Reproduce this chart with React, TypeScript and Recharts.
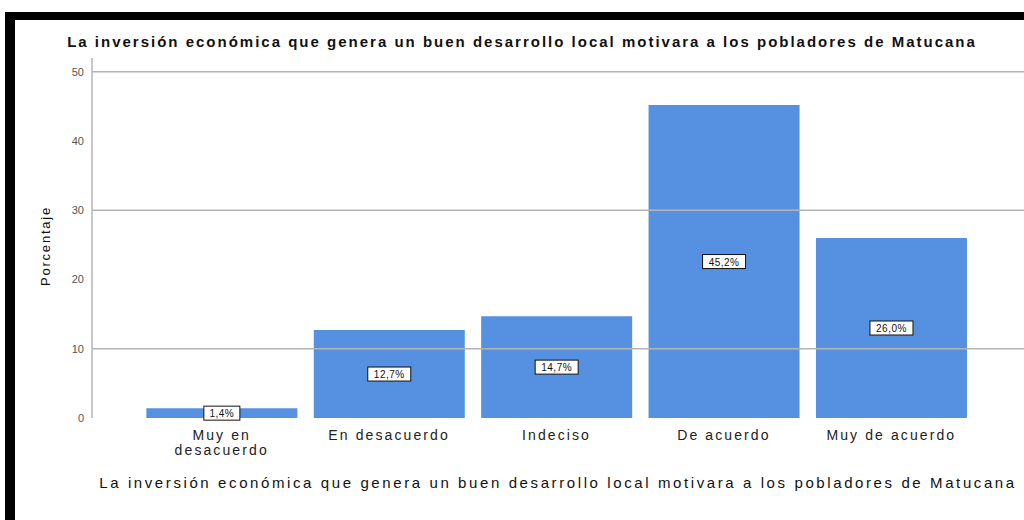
import React from "react";
import { Bar, BarChart, LabelList, ReferenceLine, XAxis, YAxis, Label } from "recharts";

const categories = ["Muy en desacuerdo", "En desacuerdo", "Indeciso", "De acuerdo", "Muy de acuerdo"];
const percentages = [1.4, 12.7, 14.7, 45.2, 26.0];
const yTicks = [0, 10, 20, 30, 40, 50];
const gridValues = [10, 30, 50];

const TITLE = "La inversión económica que genera un buen desarrollo local motivara a los pobladores de Matucana";
const FONT = "'Liberation Sans', Arial, sans-serif";

const data = categories.map((name, i) => ({ name, value: percentages[i] }));

function wrapWords(text: string, max: number) {
  const lines: string[] = [];
  let cur = "";
  for (const w of text.split(" ")) {
    const next = cur ? cur + " " + w : w;
    if (next.length > max && cur) {
      lines.push(cur);
      cur = w;
    } else cur = next;
  }
  if (cur) lines.push(cur);
  return lines;
}

function CategoryTick(props: any) {
  const { x, y, payload } = props;
  const lines = wrapWords(payload.value, 14);
  return (
    <text x={x} y={y + 14} textAnchor="middle" fill="#222" fontSize={14} letterSpacing={2.1} fontFamily={FONT}>
      {lines.map((l, i) => (
        <tspan key={i} x={x} dy={i === 0 ? 0 : 15}>
          {l}
        </tspan>
      ))}
    </text>
  );
}

function ValueBox(props: any) {
  const { x, y, width, height, value } = props;
  const txt = value.toFixed(1).replace(".", ",") + "%";
  const w = txt.length * 7 + 8;
  const cx = x + width / 2;
  const cy = y + height / 2;
  return (
    <g>
      <rect x={cx - w / 2} y={cy - 7} width={w} height={14} fill="#fff" stroke="#111" strokeWidth={1} />
      <text x={cx} y={cy + 4} textAnchor="middle" fontSize={10} fill="#111" fontFamily={FONT} letterSpacing={0.5}>
        {txt}
      </text>
    </g>
  );
}

export default function App() {
  return (
    <div style={{ position: "fixed", left: 0, top: 0, width: 1024, height: 520, background: "#fff", overflow: "hidden", fontFamily: FONT }}>
      <div style={{ position: "absolute", left: 5, top: 12, width: 1019, height: 8, background: "#000" }} />
      <div style={{ position: "absolute", left: 5, top: 12, width: 10, height: 508, background: "#000" }} />
      <div
        style={{
          position: "absolute",
          left: 0,
          width: 1044,
          top: 33,
          textAlign: "center",
          fontWeight: "bold",
          fontSize: 15,
          letterSpacing: 2,
          color: "#111",
          whiteSpace: "nowrap",
        }}
      >
        {TITLE}
      </div>
      <div style={{ position: "absolute", left: 0, top: 0 }}>
        <BarChart width={1024} height={520} data={data} margin={{ top: 58, right: 0, bottom: 0, left: 0 }} barCategoryGap="5%">
          {gridValues.map((v) => (
            <ReferenceLine key={v} y={v} stroke="#b4b4b4" strokeWidth={1.5} />
          ))}
          <XAxis
            dataKey="name"
            height={102}
            axisLine={false}
            tickLine={false}
            tick={<CategoryTick />}
            interval={0}
            padding={{ left: 46, right: 49 }}
          >
            <Label
              value={TITLE}
              position="insideBottom"
              offset={32}
              fontSize={15}
              fill="#111"
              letterSpacing={2.6}
              fontFamily={FONT}
            />
          </XAxis>
          <YAxis
            width={92}
            domain={[0, 52]}
            ticks={yTicks}
            axisLine={{ stroke: "#b4b4b4", strokeWidth: 1.5 }}
            tickLine={false}
            tick={{ fontSize: 11, fill: "#555", fontFamily: FONT }}
            tickMargin={2}
          >
            <Label value="Porcentaje" angle={-90} position="center" dx={-1} dy={8} fontSize={13} fill="#111" letterSpacing={1.8} fontFamily={FONT} />
          </YAxis>
          <Bar dataKey="value" fill="#5591e0" isAnimationActive={false}>
            <LabelList dataKey="value" content={<ValueBox />} />
          </Bar>
        </BarChart>
      </div>
    </div>
  );
}
